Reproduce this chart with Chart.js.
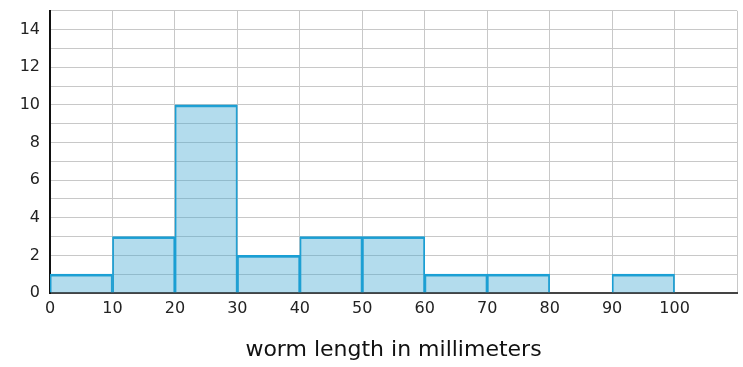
<!DOCTYPE html>
<html>
<head>
<meta charset="utf-8">
<script src="https://cdn.jsdelivr.net/npm/chart.js@4/dist/chart.umd.min.js"></script>
<style>
  html, body { margin: 0; padding: 0; background: #fff; }
  #wrap { width: 743px; height: 367px; }
</style>
</head>
<body>
<div id="wrap"><canvas id="chart"></canvas></div>
<script>
// bins are 10 mm wide, starting at these values
const binStarts = [0, 10, 20, 30, 40, 50, 60, 70, 80, 90];
const counts = [1, 3, 10, 2, 3, 3, 1, 1, 0, 1];
const xTickLabels = ['0', '10', '20', '30', '40', '50', '60', '70', '80', '90', '100'];
const yTickLabels = ['0', '2', '4', '6', '8', '10', '12', '14'];

const ctx = document.getElementById('chart');

new Chart(ctx, {
  type: 'bar',
  data: {
    datasets: [{
      data: binStarts.map((s, i) => ({ x: s + 5, y: counts[i] })),
      backgroundColor: 'rgba(65, 168, 210, 0.4)',
      borderColor: '#1a9fd4',
      borderWidth: { top: 2, left: 1.2, right: 1.2, bottom: 0 },
      barPercentage: 1,
      categoryPercentage: 1
    }]
  },
  options: {
    responsive: true,
    maintainAspectRatio: false,
    animation: false,
    layout: { padding: { top: 9, right: 5 } },
    plugins: {
      legend: { display: false },
      tooltip: { enabled: false }
    },
    scales: {
      x: {
        type: 'linear',
        min: 0,
        max: 110,
        offset: false,
        grid: { color: '#c8c8c8', drawTicks: false, offset: false },
        border: { color: '#444', width: 2 },
        ticks: {
          stepSize: 10,
          padding: 6,
          color: '#222',
          font: { family: 'DejaVu Sans', size: 16 },
          callback: v => xTickLabels[v / 10] ?? ''
        },
        title: {
          display: true,
          text: 'worm length in millimeters',
          color: '#111',
          font: { family: 'DejaVu Sans', size: 22 },
          padding: { top: 18 }
        },
        afterFit: s => { s.height = 74; }
      },
      y: {
        min: 0,
        max: 15,
        grid: { color: '#c8c8c8', drawTicks: false },
        border: { color: '#111', width: 2 },
        ticks: {
          stepSize: 1,
          padding: 10,
          color: '#222',
          font: { family: 'DejaVu Sans', size: 16, lineHeight: 0.1 },
          callback: v => (v % 2 === 0 ? yTickLabels[v / 2] ?? '' : '')
        },
        afterFit: s => { s.width = 50; }
      }
    }
  }
});
</script>
</body>
</html>
